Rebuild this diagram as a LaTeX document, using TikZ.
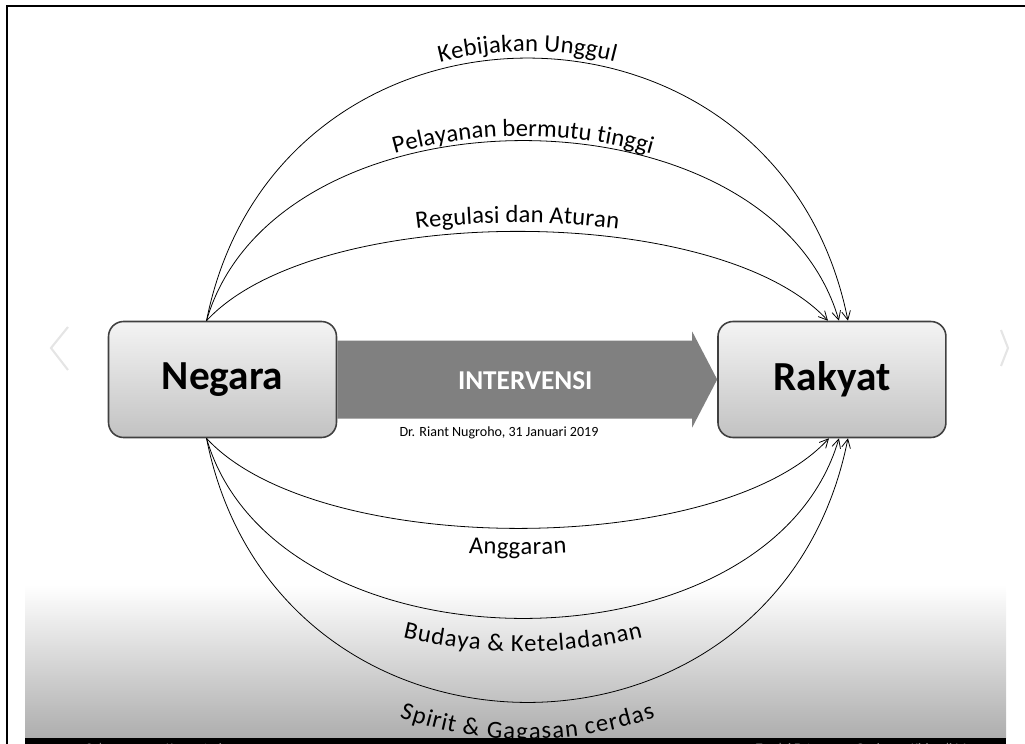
\documentclass[tikz,border=0pt]{standalone}
\usepackage{fontspec}
\setmainfont{Carlito}
\usetikzlibrary{positioning,calc,arrows.meta,decorations.text}
\definecolor{boxtop}{HTML}{F4F4F4}
\definecolor{boxbot}{HTML}{C2C2C2}
\definecolor{arrowgray}{HTML}{808080}
\newcommand\arcfont{\fontsize{14}{16}\selectfont}
\tikzset{
	box/.style={draw=black!75, line width=0.9pt, rounded corners=0.3cm, top color=boxtop, bottom color=boxbot, minimum width=4.56cm, minimum height=2.32cm, font=\fontsize{23.5}{28}\selectfont\bfseries},
	flow/.style={line width=0.45pt, -{Straight Barb[length=5pt,width=5pt]}},
	lbl/.style 2 args={postaction={decorate, decoration={text along path, text align=center, raise=#2, text={|\arcfont|#1}}}},
	bartext/.style={text=black!45, font=\fontsize{7.5}{9}\selectfont, anchor=base west},
}
\begin{document}
\begin{tikzpicture}[x=0.02cm, y=-0.02cm]
	\useasboundingbox (0,0) rectangle (1025,744);
	\shade[top color=white, bottom color=black!32] (25,585) rectangle (1006,738);
	\fill[black] (25,738) rectangle (1006,744);
	\begin{scope}
		\clip (25,738) rectangle (1006,744);
		\node[bartext] (suka) at (80,752) {Suka};
		\node[bartext] (komen) at (160,752) {Komentari};
		\node[bartext] (tandai) at (750,752) {Tandai Foto};
		\node[bartext] (opsi) at (850,752) {Opsi};
		\node[bartext] (kirim) at (905,752) {Kirim di Messenger};
	\end{scope}
	\draw[line width=1.1pt] (1025,6) -- (7,6) -- (7,744);
	\draw[black!10, line width=1.2pt] (68,327) -- (51,348) -- (68,370);
	\draw[black!10, line width=1.2pt] (1001,330) -- (1008,348) -- (1001,366);

	\node[box] (neg) at (222.5,379.5) {Negara};
	\node[box, right=7.6cm of neg] (rak) {Rakyat};

	\fill[arrowgray] ($(neg.east)+(0,-39)$) -- ($(rak.west)+(-25,-39)$) -- ($(rak.west)+(-25,-48)$) -- (rak.west) -- ($(rak.west)+(-25,48)$) -- ($(rak.west)+(-25,39)$) -- ($(neg.east)+(0,39)$) -- cycle;
	\node[text=white, font=\fontsize{15.5}{18}\selectfont\bfseries] (int) at ($(neg.east)!0.5!(rak.west)+(-2,1)$) {INTERVENSI};
	\node[font=\fontsize{8}{10}\selectfont] (ttd) at (499,433) {Dr. Riant Nugroho, 31 Januari 2019};

	\path
	($(neg.north)+(-16,0)$) coordinate (nt)
	($(neg.south)+(-16,0)$) coordinate (nb)
	($(rak.north)+(-4,0)$) coordinate (rt1)
	($(rak.north)+(7,0)$) coordinate (rt2)
	($(rak.north)+(16,0)$) coordinate (rt3)
	($(rak.south)+(-3,0)$) coordinate (rb1)
	($(rak.south)+(7,0)$) coordinate (rb2)
	($(rak.south)+(16,0)$) coordinate (rb3);

	\draw[flow, lbl={Regulasi dan Aturan}{5pt}] (nt) .. controls +(110,-119) and +(-110,-119) .. (rt1);
	\draw[flow, lbl={Pelayanan bermutu tinggi}{2.5pt}] (nt) .. controls +(70,-240) and +(-70,-240) .. (rt2);
	\draw[flow, lbl={Kebijakan Unggul}{4pt}] (nt) .. controls +(70,-350) and +(-70,-350) .. (rt3);
	\draw[flow, lbl={Anggaran}{-15pt}] (nb) .. controls +(110,120) and +(-110,120) .. (rb1);
	\draw[flow, lbl={Budaya {\&} Keteladanan}{-19pt}] (nb) .. controls +(70,240) and +(-70,240) .. (rb2);
	\draw[flow, lbl={Spirit {\&} Gagasan cerdas}{-21pt}] (nb) .. controls +(70,352) and +(-70,352) .. (rb3);
\end{tikzpicture}
\end{document}
